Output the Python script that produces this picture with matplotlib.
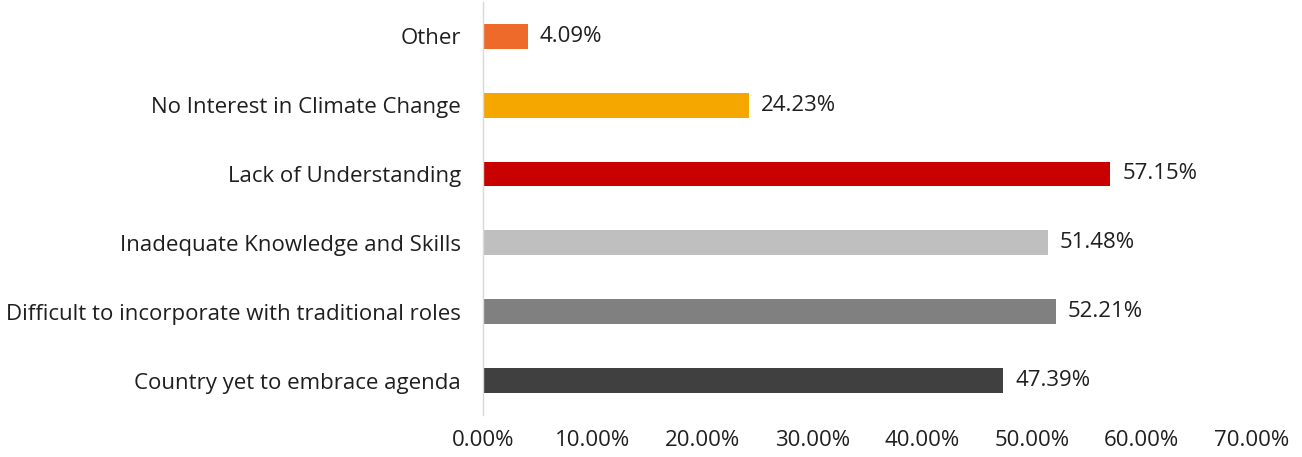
import matplotlib
matplotlib.use('Agg')
from matplotlib import pyplot as plt
from matplotlib.ticker import FuncFormatter

plt.rcParams['font.family'] = ['Open Sans', 'DejaVu Sans']

categories = ['Country yet to embrace agenda',
              'Difficult to incorporate with traditional roles',
              'Inadequate Knowledge and Skills',
              'Lack of Understanding',
              'No Interest in Climate Change',
              'Other']
values = [47.39, 52.21, 51.48, 57.15, 24.23, 4.09]
colors = ['#404040', '#808080', '#bfbfbf', '#c80000', '#f5a700', '#ee6a2b']
xticks = [0, 10, 20, 30, 40, 50, 60, 70]

fig = plt.figure(figsize=(13.02, 4.57), dpi=100)
ax = fig.add_axes([0.371, 0.092, 0.590, 0.904])

ax.barh(range(len(categories)), values, height=0.36, color=colors)
for i, v in enumerate(values):
    ax.text(v + 1.1, i, '%.2f%%' % v, va='center', ha='left', fontsize=16,
            color='#1f1f1f')

ax.set_yticks(range(len(categories)))
ax.set_yticklabels(categories, fontsize=16, color='#1f1f1f')
ax.set_ylim(-0.5, len(categories) - 0.5)
ax.set_xlim(0, 70)
ax.set_xticks(xticks)
ax.xaxis.set_major_formatter(FuncFormatter(lambda x, p: '%.2f%%' % x))
ax.tick_params(axis='x', labelsize=16, labelcolor='#1f1f1f', length=0, pad=11)
ax.tick_params(axis='y', length=0, pad=16)

for s in ['top', 'right', 'bottom']:
    ax.spines[s].set_visible(False)
ax.spines['left'].set_color('#d9d9d9')
ax.spines['left'].set_linewidth(1)

fig.savefig('out.png', dpi=100)
